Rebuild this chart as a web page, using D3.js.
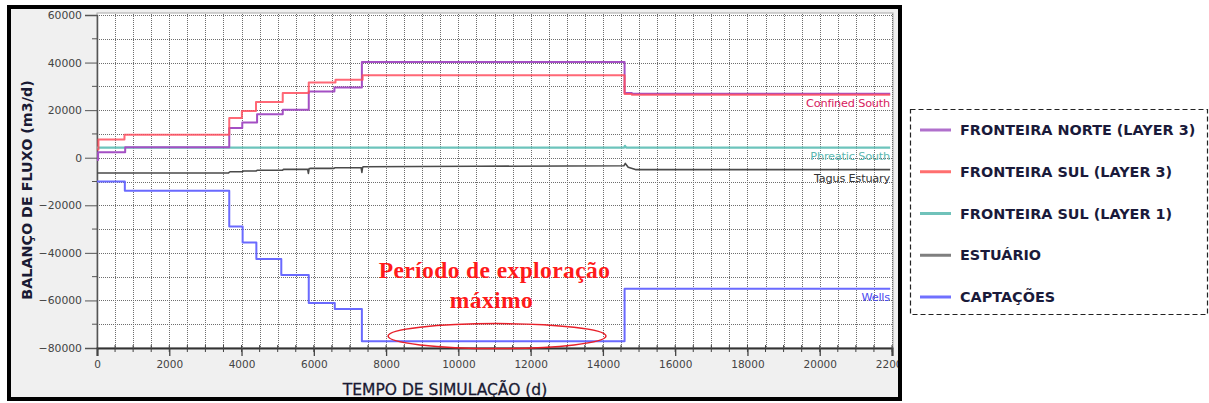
<!DOCTYPE html>
<html><head><meta charset="utf-8">
<script src="https://cdn.jsdelivr.net/npm/d3@7"></script>
<style>body{margin:0;background:#fff}svg{display:block}</style>
</head><body><svg id="c" width="1209" height="403"></svg>
<script>
// ---- data (days, m3/d) ----
const northT = [0, 30, 780, 3660, 4020, 4430, 5140, 5860, 6570, 7330, 14600, 14800, 21950];
const northV = [-1000, 2300, 4400, 12500, 14800, 18300, 20200, 27800, 29500, 40200, 27200, 26900, 26900];
const southT = [0, 40, 760, 3660, 4010, 4400, 5140, 5860, 6600, 7350, 14600, 14800, 21950];
const southV = [3500, 7700, 9700, 16700, 19600, 23400, 27200, 31600, 32800, 34700, 26800, 26500, 26500];
const phreT = [0, 14580, 14610, 14650, 21950];
const phreV = [4200, 4200, 5000, 4200, 4200];
const estT = [0, 3640, 3680, 4020, 4050, 4400, 4430, 5130, 5160, 5830, 5850, 5870, 5900, 6560, 6590, 7310, 7330, 7350, 7380, 10500, 14580, 14620, 14700, 14900, 21950];
const estV = [-6400, -6400, -5900, -5900, -5600, -5600, -5300, -5300, -4900, -4900, -6600, -4600, -4500, -4500, -4200, -4200, -6200, -4000, -3800, -3600, -3400, -2400, -4000, -5000, -5000];
const wellT = [0, 770, 3660, 4030, 4410, 5100, 5860, 6580, 7330, 14600, 21950];
const wellV = [-10000, -13900, -28900, -35600, -42600, -49300, -61100, -63600, -77200, -55100, -55100];

const legendNames = ["FRONTEIRA NORTE (LAYER 3)", "FRONTEIRA SUL (LAYER 3)", "FRONTEIRA SUL (LAYER 1)", "ESTUÁRIO", "CAPTAÇÕES"];
const endLabels = ["Confined South", "Phreatic South", "Tagus Estuary", "Wells"];
const xTickVals = d3.range(0, 22001, 2000);
const yTickVals = d3.range(-80000, 60001, 20000);
const xLabel = "TEMPO DE SIMULAÇÃO (d)";
const yLabel = "BALANÇO DE FLUXO (m3/d)";
const noteLines = ["Período de exploração", "máximo"];

// ---- layout ----
const svg = d3.select("#c");
const x = d3.scaleLinear([0, 22000], [97, 892]);
const y = d3.scaleLinear([-80000, 60000], [348, 15]);

svg.append("clipPath").attr("id", "fr").append("rect").attr("x", 9).attr("y", 7).attr("width", 889).attr("height", 391);
svg.append("rect").attr("x", 9).attr("y", 7).attr("width", 889).attr("height", 391).attr("fill", "#f0f0f0");
const g = svg.append("g").attr("clip-path", "url(#fr)");

// plot area
g.append("rect").attr("x", 97).attr("y", 13).attr("width", 796).attr("height", 335).attr("fill", "#fff").attr("stroke", "#a8a8a8").attr("stroke-width", 1);

// grid
const gridCol = "#6e6e6e";
g.append("g").selectAll("line").data(d3.range(500, 22001, 500)).join("line")
  .attr("x1", d => Math.round(x(d)) + 0.5).attr("x2", d => Math.round(x(d)) + 0.5)
  .attr("y1", 14).attr("y2", 348)
  .attr("stroke", gridCol).attr("stroke-width", 1).attr("stroke-dasharray", "1,1");
g.append("g").selectAll("line").data(d3.range(-70000, 60001, 10000)).join("line")
  .attr("y1", d => Math.round(y(d)) + 0.5).attr("y2", d => Math.round(y(d)) + 0.5)
  .attr("x1", 97).attr("x2", 893)
  .attr("stroke", gridCol).attr("stroke-width", 1).attr("stroke-dasharray", "1,1");

// y axis
const yAx = g.append("g").attr("transform", "translate(97,0)")
  .call(d3.axisLeft(y).tickValues(yTickVals).tickSize(12).tickPadding(3).tickFormat(d3.format("d")));
yAx.select(".domain").attr("stroke", "#555").attr("stroke-width", 1.5);
yAx.selectAll(".tick line").attr("stroke", "#555");
yAx.selectAll("text").attr("font-family", "DejaVu Sans").attr("font-size", 10.8).attr("fill", "#444");
g.append("g").selectAll("line").data(d3.range(-70000, 60000, 20000)).join("line")
  .attr("x1", 92).attr("x2", 97).attr("y1", d => y(d)).attr("y2", d => y(d)).attr("stroke", "#555");

// x axis
const xAx = g.append("g").attr("transform", "translate(0,348)")
  .call(d3.axisBottom(x).tickValues(xTickVals).tickSize(8).tickPadding(5).tickFormat(d3.format("d")));
xAx.select(".domain").attr("stroke", "#333").attr("stroke-width", 2);
xAx.selectAll(".tick line").attr("stroke", "#444").attr("stroke-width", 1.3);
xAx.selectAll("text").attr("font-family", "DejaVu Sans").attr("font-size", 10.5).attr("fill", "#444");
g.append("g").selectAll("line").data(d3.range(500, 22001, 500)).join("line")
  .attr("x1", d => x(d)).attr("x2", d => x(d)).attr("y1", 345).attr("y2", 352).attr("stroke", "#444");

// axis titles
g.append("text").attr("x", 445).attr("y", 395).attr("text-anchor", "middle")
  .attr("font-family", "DejaVu Sans").attr("font-size", 15.5).attr("fill", "#1a1a33").attr("stroke", "#1a1a33").attr("stroke-width", 0.3)
  .text(xLabel);
g.append("text").attr("transform", "translate(32,190) rotate(-90)").attr("text-anchor", "middle")
  .attr("font-family", "DejaVu Sans").attr("font-weight", "bold").attr("font-size", 14.3).attr("fill", "#1a1a33")
  .text(yLabel);

// series
const mk = (T, V) => T.map((t, i) => [t, V[i]]);
const series = [
  {pts: mk(phreT, phreV), color: "#6cc4bc", curve: d3.curveLinear, w: 2.2, o: 1},
  {pts: mk(estT, estV), color: "#4a4a4a", curve: d3.curveLinear, w: 1.6, o: 1},
  {pts: mk(wellT, wellV), color: "#6a6aff", curve: d3.curveStepAfter, w: 2, o: 1},
  {pts: mk(northT, northV), color: "#a450c4", curve: d3.curveStepAfter, w: 2, o: 1},
  {pts: mk(southT, southV), color: "#ff4d5e", curve: d3.curveStepAfter, w: 2, o: 0.85}
];
series.forEach(s => {
  g.append("path").datum(s.pts)
    .attr("d", d3.line().x(d => x(d[0])).y(d => y(d[1])).curve(s.curve))
    .attr("fill", "none").attr("stroke", s.color).attr("stroke-width", s.w).attr("stroke-opacity", s.o).attr("stroke-linejoin", "round");
});

// end labels
const endInfo = [
  {v: southV[southV.length - 1], c: "#d81b5e"},
  {v: phreV[phreV.length - 1], c: "#5cb8b0"},
  {v: estV[estV.length - 1], c: "#333"},
  {v: wellV[wellV.length - 1], c: "#4a4af0"}
];
endLabels.forEach((t, i) => {
  g.append("text").attr("x", x(22000) - 2).attr("y", y(endInfo[i].v) + 12.5).attr("text-anchor", "end")
    .attr("font-family", "DejaVu Sans").attr("font-size", 11.3).attr("fill", endInfo[i].c).attr("letter-spacing", -0.2).text(t);
});

// annotation
const noteX = 11000, noteY1 = -50400, noteY2 = -63000;
g.append("text").attr("x", x(noteX)).attr("y", y(noteY1)).attr("text-anchor", "middle")
  .attr("font-family", "Liberation Serif").attr("font-weight", "bold").attr("font-size", 23.5).attr("fill", "#ff1a1a")
  .attr("letter-spacing", 0.4).text(noteLines[0]);
g.append("text").attr("x", x(noteX) - 3).attr("y", y(noteY2)).attr("text-anchor", "middle")
  .attr("font-family", "Liberation Serif").attr("font-weight", "bold").attr("font-size", 23.5).attr("fill", "#ff1a1a")
  .attr("letter-spacing", 0.4).text(noteLines[1]);
const ex = 11070, ey = -75000;
g.append("ellipse").attr("cx", x(ex)).attr("cy", y(ey))
  .attr("rx", x(ex + 3015) - x(ex)).attr("ry", y(ey) - y(ey + 5250))
  .attr("fill", "none").attr("stroke", "#e8202a").attr("stroke-width", 1.5);

// frame border
svg.append("rect").attr("x", 9).attr("y", 7).attr("width", 891).attr("height", 392)
  .attr("fill", "none").attr("stroke", "#000").attr("stroke-width", 4);

// legend
const legColors = ["#b070cc", "#ff6f6f", "#70c2ba", "#7f7f7f", "#7070ff"];
svg.append("rect").attr("x", 910.5).attr("y", 109.5).attr("width", 297).attr("height", 205)
  .attr("fill", "#fff").attr("stroke", "#222").attr("stroke-width", 1.2).attr("stroke-dasharray", "5,3");
const ly = d3.scalePoint(legendNames, [130, 297]);
legendNames.forEach((n, i) => {
  svg.append("line").attr("x1", 920).attr("x2", 951).attr("y1", ly(n)).attr("y2", ly(n))
    .attr("stroke", legColors[i]).attr("stroke-width", 3);
  svg.append("text").attr("x", 960).attr("y", ly(n) + 5).attr("font-family", "DejaVu Sans").attr("font-weight", "bold")
    .attr("font-size", 14.4).attr("fill", "#1a1a3a").text(n);
});
</script></body></html>
